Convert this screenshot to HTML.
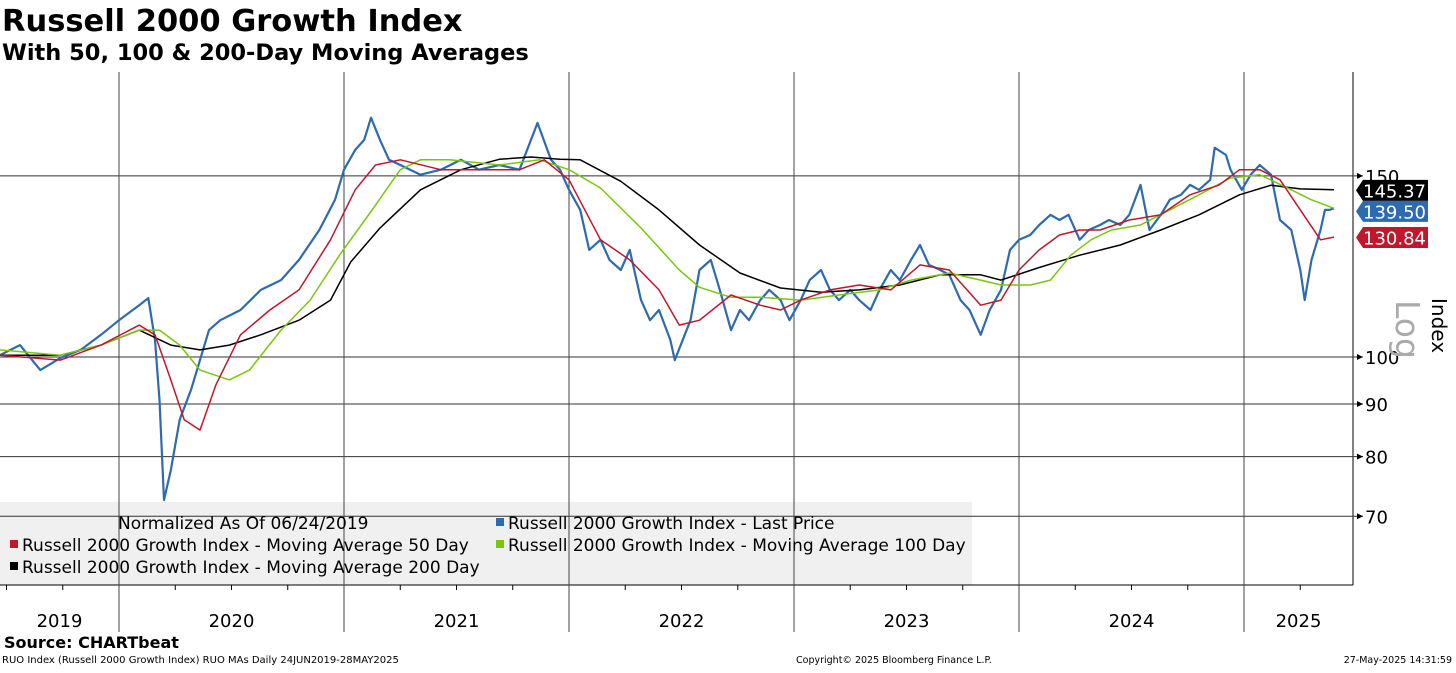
<!DOCTYPE html>
<html><head><meta charset="utf-8"><style>
body{margin:0;background:#fff;width:1456px;height:668px;overflow:hidden;font-family:"Liberation Sans","DejaVu Sans",sans-serif}
svg text{font-family:"DejaVu Sans","Liberation Sans",sans-serif}
</style></head><body>
<svg id="chart" width="1456" height="668" xmlns="http://www.w3.org/2000/svg">
<text x="2" y="31" font-size="30.5" font-weight="bold" fill="#000">Russell 2000 Growth Index</text>
<text x="2" y="60" font-size="22.5" font-weight="bold" fill="#000">With 50, 100 &amp; 200-Day Moving Averages</text>
<rect x="0" y="502" width="972" height="83" fill="#f0f0f0"/>
<g id="grid"></g>
<g id="series"></g>
<g id="legend" font-size="17" fill="#000">
<text x="118" y="529">Normalized As Of 06/24/2019</text>
<rect x="496" y="518" width="8" height="8" fill="#2e6aaf"/>
<text x="508" y="529">Russell 2000 Growth Index - Last Price</text>
<rect x="10" y="540" width="8" height="8" fill="#c0172b"/>
<text x="22" y="551">Russell 2000 Growth Index - Moving Average 50 Day</text>
<rect x="496" y="540" width="8" height="8" fill="#7ac70c"/>
<text x="508" y="551">Russell 2000 Growth Index - Moving Average 100 Day</text>
<rect x="10" y="562" width="8" height="8" fill="#000"/>
<text x="22" y="573">Russell 2000 Growth Index - Moving Average 200 Day</text>
</g>
<g id="labels"></g>
<text transform="translate(1396,300) rotate(90)" font-size="33" fill="#aaa">Log</text>
<text transform="translate(1432,298) rotate(90)" font-size="20" fill="#000">Index</text>
<text x="4" y="648" font-size="16" font-weight="bold">Source: CHARTbeat</text>
<text x="2" y="663" font-size="10" font-family="DejaVu Sans Mono,monospace">RUO Index (Russell 2000 Growth Index) RUO MAs  Daily 24JUN2019-28MAY2025</text>
<text x="796" y="663" font-size="9.5">Copyright© 2025 Bloomberg Finance L.P.</text>
<text x="1452" y="663" font-size="9.5" text-anchor="end">27-May-2025 14:31:59</text>
</svg>
<script>
const yTicks=[150,100,90,80,70];
const years=[2019,2020,2021,2022,2023,2024,2025];
const priceDates=[2019.47,2019.56,2019.65,2019.74,2019.83,2019.92,2020.00,2020.09,2020.13,2020.16,2020.18,2020.20,2020.23,2020.27,2020.32,2020.36,2020.40,2020.45,2020.54,2020.63,2020.72,2020.80,2020.89,2020.96,2021.00,2021.05,2021.09,2021.12,2021.16,2021.20,2021.25,2021.34,2021.43,2021.52,2021.60,2021.69,2021.78,2021.86,2021.92,2021.96,2022.00,2022.05,2022.09,2022.14,2022.18,2022.23,2022.27,2022.32,2022.36,2022.40,2022.45,2022.47,2022.54,2022.58,2022.63,2022.67,2022.72,2022.76,2022.80,2022.85,2022.89,2022.94,2022.98,2023.03,2023.07,2023.12,2023.16,2023.20,2023.25,2023.29,2023.34,2023.38,2023.43,2023.47,2023.52,2023.56,2023.60,2023.65,2023.69,2023.74,2023.78,2023.83,2023.87,2023.92,2023.96,2024.00,2024.05,2024.09,2024.14,2024.18,2024.22,2024.27,2024.31,2024.36,2024.40,2024.45,2024.49,2024.54,2024.58,2024.63,2024.67,2024.72,2024.76,2024.80,2024.85,2024.87,2024.92,2024.94,2024.99,2025.03,2025.07,2025.12,2025.16,2025.21,2025.25,2025.27,2025.30,2025.34,2025.36,2025.38,2025.40];
const price=[100.4,102.7,97.1,99.8,101.6,105.1,108.6,112.3,114.1,103.9,90.8,72.6,77.6,86.9,92.9,99.3,106.2,108.6,111.1,116.2,118.8,124.3,132.9,142.2,152.1,159.0,162.6,170.9,162.6,155.5,153.7,150.4,152.1,155.5,152.1,153.7,152.1,168.9,155.5,152.1,145.4,139.0,127.1,130.0,124.3,121.5,127.1,113.6,108.6,111.1,103.9,99.3,108.6,121.5,124.3,116.2,106.2,111.1,108.6,113.6,116.2,113.6,108.6,113.6,118.8,121.5,116.2,113.6,116.2,113.6,111.1,116.2,121.5,118.8,124.3,128.5,122.9,121.5,120.2,113.6,111.1,105.1,111.1,116.2,127.1,130.0,131.4,134.4,137.5,135.9,137.5,130.0,132.9,134.4,135.9,134.4,137.5,147.0,132.9,137.5,142.2,143.8,147.0,145.4,148.7,159.8,157.2,152.1,145.4,150.4,153.7,150.4,135.9,132.9,121.5,113.6,124.3,132.9,139.0,139.0,139.5];
const ma50Dates=[2019.47,2019.74,2019.92,2020.09,2020.16,2020.23,2020.29,2020.36,2020.43,2020.54,2020.67,2020.80,2020.94,2021.05,2021.14,2021.25,2021.43,2021.60,2021.78,2021.89,2022.00,2022.14,2022.27,2022.40,2022.49,2022.58,2022.72,2022.85,2022.94,2023.03,2023.16,2023.29,2023.43,2023.56,2023.69,2023.83,2023.92,2024.00,2024.09,2024.18,2024.27,2024.36,2024.49,2024.63,2024.76,2024.89,2024.98,2025.07,2025.16,2025.25,2025.34,2025.40];
const ma50=[100.4,99.3,102.7,107.4,105.1,95.0,86.9,84.9,93.9,105.1,111.1,116.2,130.0,145.4,153.7,155.5,152.1,152.1,152.1,155.5,148.7,130.0,124.3,116.2,107.4,108.6,114.9,112.3,111.1,113.6,116.2,117.5,116.2,122.9,121.5,112.3,113.6,121.5,127.1,131.4,132.9,132.9,135.9,137.5,143.8,147.0,152.1,152.1,148.7,139.0,130.0,130.8];
const ma100Dates=[2019.47,2019.74,2019.92,2020.09,2020.18,2020.27,2020.36,2020.49,2020.58,2020.72,2020.85,2020.98,2021.12,2021.25,2021.34,2021.47,2021.69,2021.87,2022.00,2022.14,2022.32,2022.49,2022.58,2022.72,2022.85,2023.03,2023.20,2023.38,2023.52,2023.69,2023.83,2023.92,2024.05,2024.14,2024.23,2024.32,2024.41,2024.54,2024.67,2024.80,2024.94,2025.07,2025.21,2025.30,2025.40];
const ma100=[101.6,100.4,102.7,106.2,106.2,102.7,97.1,95.0,97.1,106.2,113.6,125.6,138.5,152.1,155.5,155.5,153.7,155.5,152.1,146.0,133.5,121.5,116.9,114.3,114.3,113.6,114.9,116.2,118.8,120.7,118.8,117.5,117.5,118.8,125.6,130.0,132.9,134.4,139.0,143.8,149.3,150.4,145.4,142.2,139.5];
const ma200Dates=[2019.47,2019.74,2019.92,2020.09,2020.23,2020.36,2020.49,2020.63,2020.80,2020.94,2021.03,2021.16,2021.34,2021.52,2021.69,2021.83,2021.96,2022.05,2022.23,2022.40,2022.58,2022.76,2022.94,2023.12,2023.29,2023.47,2023.65,2023.83,2023.92,2024.09,2024.27,2024.45,2024.63,2024.80,2024.98,2025.12,2025.25,2025.40];
const ma200=[100.4,100.4,102.7,106.2,102.7,101.6,102.7,105.1,108.6,113.6,123.7,133.5,145.4,152.1,155.7,156.5,155.7,155.5,148.2,139.0,128.5,120.7,116.7,115.6,116.2,117.5,120.2,120.2,118.8,122.2,125.6,128.5,132.9,137.5,143.8,146.9,145.7,145.4];
const lastLabels=[{v:145.37,c:"#000",t:"145.37",n:"last-value-ma200"},{v:139.50,c:"#2e6aaf",t:"139.50",n:"last-value-price"},{v:130.84,c:"#c0172b",t:"130.84",n:"last-value-ma50"}];

const NS="http://www.w3.org/2000/svg";
const X0=119, YW=225, L=0, R=1353, TOP=72, BOT=585;
const xs=d=>X0+(d-2020)*YW;
const ys=v=>357-446.6*Math.log(v/100);
function mk(tag,attrs,parent){const e=document.createElementNS(NS,tag);for(const k in attrs)e.setAttribute(k,attrs[k]);parent.appendChild(e);return e;}
const grid=document.getElementById('grid'),ser=document.getElementById('series'),lab=document.getElementById('labels');
let ax=mk('line',{x1:R,y1:TOP,x2:R,y2:BOT,stroke:'#000','stroke-width':1},grid);


let bx=mk('line',{x1:0,y1:BOT,x2:R,y2:BOT,stroke:'#000','stroke-width':1},grid);


yTicks.forEach(v=>{const y=ys(v);
 const g=mk('line',{x1:0,y1:y,x2:R+10,y2:y,stroke:'#333','stroke-width':1},grid);
 
 
 mk('path',{d:`M${R+4} ${y-3}L${R+10} ${y}L${R+4} ${y+3}Z`,fill:'#000'},grid);
 const t=mk('text',{x:R+12,y:y+7,'font-size':18,fill:'#000'},grid);t.textContent=v;
 
 
});
years.forEach(yr=>{
 if(yr>2019){const x=xs(yr);
  const g=mk('line',{x1:x,y1:TOP,x2:x,y2:632,stroke:'#444','stroke-width':1},grid);
  
  }
 for(let q=0;q<4;q++){const x=xs(yr+q/4);if(x>0&&x<R&&q>0){mk('line',{x1:x,y1:BOT,x2:x,y2:BOT+5,stroke:'#000'},grid);}}
 const s=Math.max(xs(yr),0),e=Math.min(xs(yr+1),R);
 const t=mk('text',{x:(s+e)/2,y:627,'font-size':18,'text-anchor':'middle',fill:'#000'},grid);t.textContent=yr;
 
 
});
function line(d,v,c,w,name){const p=mk('polyline',{points:d.map((x,i)=>xs(x).toFixed(1)+','+ys(v[i]).toFixed(1)).join(' '),fill:'none',stroke:c,'stroke-width':w,'stroke-linejoin':'round'},ser);
 
 }
line(priceDates,price,'#2e6aaf',2.2,'series-last-price');
line(ma200Dates,ma200,'#000',1.5,'series-ma200');
line(ma100Dates,ma100,'#7ac70c',1.5,'series-ma100');
line(ma50Dates,ma50,'#c0172b',1.5,'series-ma50');
let prevB=0;
lastLabels.forEach(o=>{let y=ys(o.v);let top=Math.max(y-10,prevB);prevB=top+21;const cy=top+10.5;
 const p=mk('path',{d:`M1356 ${cy}L1363 ${top}H1428V${top+21}H1363Z`,fill:o.c},lab);
 
 
 const t=mk('text',{x:1426,y:cy+7,'font-size':18,'text-anchor':'end',fill:'#fff'},lab);t.textContent=o.t;
 
 
});
</script>
</body></html>
